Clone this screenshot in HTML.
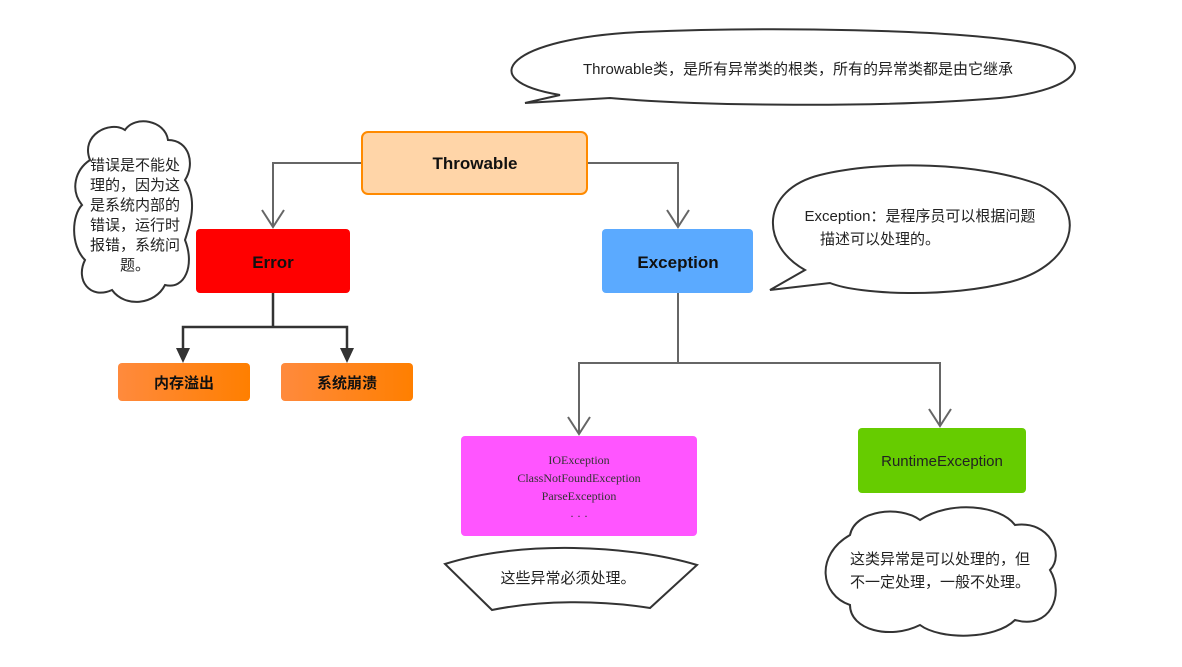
<!DOCTYPE html>
<html><head><meta charset="utf-8"><style>
html,body{margin:0;padding:0;background:#fff;}
svg text{font-family:"Liberation Sans","Noto Sans CJK SC",sans-serif;}
</style></head><body>
<svg width="1182" height="662" viewBox="0 0 1182 662" xmlns="http://www.w3.org/2000/svg">
<defs>
<linearGradient id="og" x1="0" x2="1"><stop offset="0" stop-color="#FF8A3D"/><stop offset="1" stop-color="#FF7F00"/></linearGradient>
</defs>
<!-- top speech bubble -->
<path d="M560,95 C470,80 510,38 640,32 C760,27 960,28 1040,45 C1100,60 1080,90 1000,98 C880,108 700,106 610,98 L525,103 Z" fill="#fff" stroke="#333" stroke-width="2"/>
<text x="798" y="74" font-size="15" text-anchor="middle" fill="#222">Throwable类，是所有异常类的根类，所有的异常类都是由它继承</text>
<!-- exception bubble -->
<path d="M805,270 C760,245 760,190 820,175 C880,160 980,162 1040,185 C1090,210 1075,265 1010,282 C950,298 860,295 830,283 L770,290 Z" fill="#fff" stroke="#333" stroke-width="2"/>
<text x="920" y="221" font-size="15" text-anchor="middle" fill="#222">Exception：是程序员可以根据问题</text>
<text x="880" y="244" font-size="15" text-anchor="middle" fill="#222">描述可以处理的。</text>
<!-- left cloud -->
<path d="M90,160 C80,135 110,120 125,130 C135,115 165,120 168,140 C190,140 195,165 185,180 C198,200 190,225 185,240 C195,265 185,290 165,285 C155,305 125,308 112,290 C90,300 75,280 85,260 C70,245 72,215 82,205 C70,190 75,170 90,160 Z" fill="#fff" stroke="#333" stroke-width="2"/>
<g font-size="15" fill="#222" text-anchor="middle">
<text x="135" y="170">错误是不能处</text>
<text x="135" y="190">理的，因为这</text>
<text x="135" y="210">是系统内部的</text>
<text x="135" y="230">错误，运行时</text>
<text x="135" y="250">报错，系统问</text>
<text x="135" y="270">题。</text>
</g>
<!-- bottom right cloud -->
<path d="M850,535 C855,510 900,505 920,520 C950,500 1000,505 1015,525 C1050,520 1065,555 1050,570 C1065,595 1050,630 1015,620 C995,640 940,640 920,625 C890,640 850,630 850,605 C820,595 815,555 850,535 Z" fill="#fff" stroke="#333" stroke-width="2"/>
<text x="940" y="564" font-size="15" text-anchor="middle" fill="#222">这类异常是可以处理的，但</text>
<text x="940" y="587" font-size="15" text-anchor="middle" fill="#222">不一定处理，一般不处理。</text>
<!-- banner -->
<path d="M445,564 C520,540 630,545 697,565 L650,608 C600,600 540,600 492,610 Z" fill="#fff" stroke="#333" stroke-width="2"/>
<text x="568" y="583" font-size="15" text-anchor="middle" fill="#222">这些异常必须处理。</text>
<!-- connectors -->
<g fill="none" stroke="#666" stroke-width="2">
<path d="M362,163 H273 V227"/><path d="M262,210 L273,227 L284,210"/>
<path d="M587,163 H678 V227"/><path d="M667,210 L678,227 L689,210"/>
<path d="M678,293 V363 H579 V434 M678,363 H940 V426"/>
<path d="M568,417 L579,434 L590,417"/><path d="M929,409 L940,426 L951,409"/>
</g>
<g stroke="#333" stroke-width="2.5" fill="none"><path d="M273,293 V327 H183 V350 M273,327 H347 V350"/></g>
<path d="M176,348 L190,348 L183,363 Z M340,348 L354,348 L347,363 Z" fill="#333"/>
<!-- boxes -->
<rect x="362" y="132" width="225" height="62" rx="6" fill="#FFD5A8" stroke="#FF8A00" stroke-width="2"/>
<text x="475" y="169" font-size="17" font-weight="bold" text-anchor="middle" fill="#111">Throwable</text>
<rect x="196" y="229" width="154" height="64" rx="4" fill="#FF0000"/>
<text x="273" y="268" font-size="17" font-weight="bold" text-anchor="middle" fill="#111">Error</text>
<rect x="602" y="229" width="151" height="64" rx="4" fill="#5BAAFF"/>
<text x="678" y="268" font-size="17" font-weight="bold" text-anchor="middle" fill="#111">Exception</text>
<rect x="118" y="363" width="132" height="38" rx="4" fill="url(#og)"/>
<text x="184" y="388" font-size="15" font-weight="bold" text-anchor="middle" fill="#111">内存溢出</text>
<rect x="281" y="363" width="132" height="38" rx="4" fill="url(#og)"/>
<text x="347" y="388" font-size="15" font-weight="bold" text-anchor="middle" fill="#111">系统崩溃</text>
<rect x="461" y="436" width="236" height="100" rx="4" fill="#FF55FF"/>
<g font-family="Liberation Mono,monospace" font-size="12" fill="#333" text-anchor="middle">
<text x="579" y="464" style="font-family:'Liberation Serif',serif">IOException</text>
<text x="579" y="482" style="font-family:'Liberation Serif',serif">ClassNotFoundException</text>
<text x="579" y="500" style="font-family:'Liberation Serif',serif">ParseException</text>
<text x="579" y="520" style="font-family:'Liberation Serif',serif">· · ·</text>
</g>
<rect x="858" y="428" width="168" height="65" rx="4" fill="#66CC00"/>
<text x="942" y="466" font-size="15" text-anchor="middle" fill="#222">RuntimeException</text>
</svg>
</body></html>
